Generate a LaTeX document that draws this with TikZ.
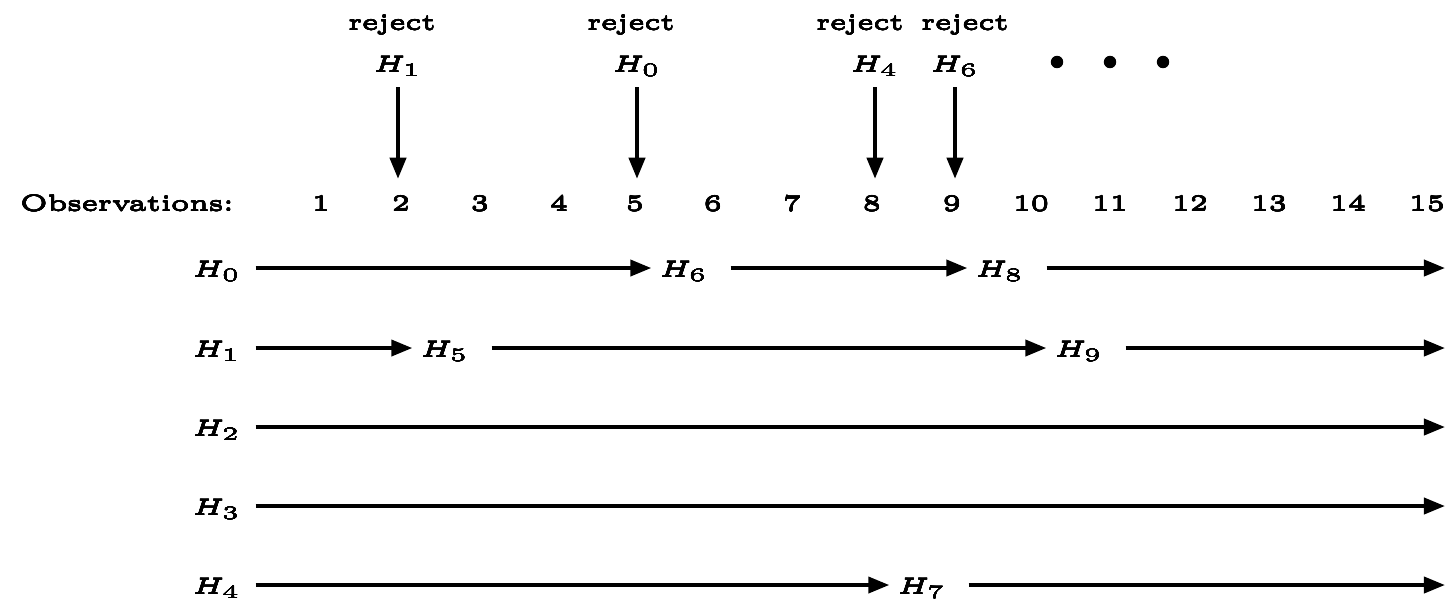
\documentclass[tikz,border=0pt]{standalone}
\usepackage{graphicx}
\usepackage[copies]{contour}
\contourlength{0.02pt}
\contournumber{8}
\DeclareMathSizes{6}{6}{5.2}{4.5}
\usetikzlibrary{arrows.meta}
\newcommand\wtxt[1]{\scalebox{2.2}[1.7]{\fontsize{6}{7}\selectfont\contour{black}{#1}}}
\begin{document}
\begin{tikzpicture}[x=0.45pt,y=-0.45pt,
  lab/.style={inner sep=0pt, text height=9pt, text depth=0.9pt},
  txt/.style={inner sep=0pt, anchor=base},
  arr/.style={line width=1.8pt, -{Triangle[length=9.5pt,width=7.2pt]}},
  into/.style={shorten >=3.6pt},
  outof/.style={shorten <=9.9pt},
  fromrow/.style={shorten <=6.3pt},
  dot/.style={circle, fill, inner sep=0pt, minimum size=5.6pt}]
\useasboundingbox (0,0) rectangle (1447,602);

% top labels
\node[txt] (rj1) at (392,30) {\wtxt{reject}};
\node[txt] (rj0) at (631,30) {\wtxt{reject}};
\node[txt] (rj4) at (860,30) {\wtxt{reject}};
\node[txt] (rj6) at (965,30) {\wtxt{reject}};
\node[lab] (t1) at (398,63) {\wtxt{$H_1$}};
\node[lab] (t0) at (637,63) {\wtxt{$H_0$}};
\node[lab] (t4) at (875,63) {\wtxt{$H_4$}};
\node[lab] (t6) at (955,63) {\wtxt{$H_6$}};
\node[dot] (d1) at (1057,62) {};
\node[dot] (d2) at (1110,62) {};
\node[dot] (d3) at (1163,62) {};

% observations
\node[txt] (obs) at (127,211) {\wtxt{Observations:}};
\node[txt] (n1) at (321,211) {\wtxt{1}};
\node[txt] (n2) at (401,211) {\wtxt{2}};
\node[txt] (n3) at (480,211) {\wtxt{3}};
\node[txt] (n4) at (559,211) {\wtxt{4}};
\node[txt] (n5) at (635,211) {\wtxt{5}};
\node[txt] (n6) at (713,211) {\wtxt{6}};
\node[txt] (n7) at (792,211) {\wtxt{7}};
\node[txt] (n8) at (872,211) {\wtxt{8}};
\node[txt] (n9) at (952,211) {\wtxt{9}};
\node[txt] (n10) at (1031,211) {\wtxt{10}};
\node[txt] (n11) at (1110,211) {\wtxt{11}};
\node[txt] (n12) at (1190,211) {\wtxt{12}};
\node[txt] (n13) at (1269,211) {\wtxt{13}};
\node[txt] (n14) at (1348,211) {\wtxt{14}};
\node[txt] (n15) at (1427,211) {\wtxt{15}};

\draw[arr, shorten <=5.85pt, shorten >=7.5pt] (t1) -- (t1 |- n2.north);
\draw[arr, shorten <=5.85pt, shorten >=7.5pt] (t0) -- (t0 |- n5.north);
\draw[arr, shorten <=5.85pt, shorten >=7.5pt] (t4) -- (t4 |- n8.north);
\draw[arr, shorten <=5.85pt, shorten >=7.5pt] (t6) -- (t6 |- n9.north);

% row ends
\coordinate (e0) at (1445,268);
\coordinate (e1) at (1445,348);
\coordinate (e2) at (1445,427);
\coordinate (e3) at (1445,506);
\coordinate (e4) at (1445,585);

% rows
\node[lab] (R0) at (217,268) {\wtxt{$H_0$}};
\node[lab] (R1) at (217,348) {\wtxt{$H_1$}};
\node[lab] (R2) at (217,427) {\wtxt{$H_2$}};
\node[lab] (R3) at (217,506) {\wtxt{$H_3$}};
\node[lab] (R4) at (217,585) {\wtxt{$H_4$}};

\node[lab] (a6) at (684,268) {\wtxt{$H_6$}};
\node[lab] (a8) at (1000,268) {\wtxt{$H_8$}};
\node[lab] (a5) at (445,348) {\wtxt{$H_5$}};
\node[lab] (a9) at (1079,348) {\wtxt{$H_9$}};
\node[lab] (a7) at (922,585) {\wtxt{$H_7$}};

\draw[arr, fromrow, into] (R0) -- (a6);
\draw[arr, outof, into] (a6) -- (a8);
\draw[arr, outof] (a8) -- (e0);

\draw[arr, fromrow, into] (R1) -- (a5);
\draw[arr, outof, into] (a5) -- (a9);
\draw[arr, outof] (a9) -- (e1);

\draw[arr, fromrow] (R2) -- (e2);
\draw[arr, fromrow] (R3) -- (e3);

\draw[arr, fromrow, into] (R4) -- (a7);
\draw[arr, outof] (a7) -- (e4);
\end{tikzpicture}
\end{document}
